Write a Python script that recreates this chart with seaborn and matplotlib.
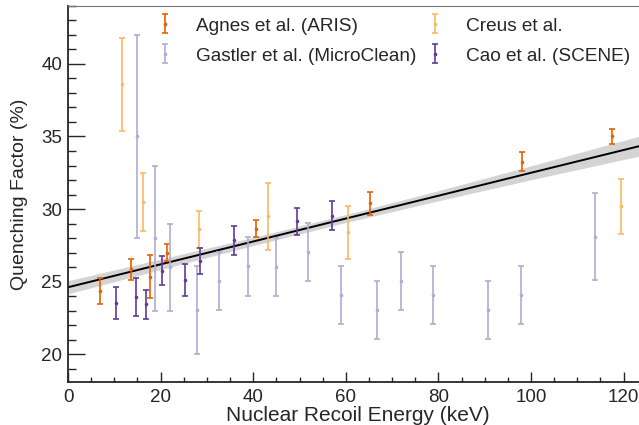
import numpy as np
import pandas as pd
import matplotlib
matplotlib.use("Agg")
import matplotlib.pyplot as plt
import seaborn as sns
from matplotlib.ticker import MultipleLocator

# ------------------------------
# Data
# ------------------------------
aris_x = [7.0, 13.6, 17.7, 21.4, 40.5, 65.3, 98.1, 117.6]
aris_y = [24.35, 25.85, 25.35, 27.0, 28.65, 30.4, 33.25, 35.0]
aris_err = [0.9, 0.72, 1.5, 0.6, 0.6, 0.8, 0.65, 0.5]

creus_x = [11.6, 16.3, 28.4, 43.3, 60.4, 119.4]
creus_y = [38.6, 30.5, 28.6, 29.5, 28.4, 30.2]
creus_err = [3.2, 2.0, 1.3, 2.3, 1.8, 1.9]

gastler_x = [14.8, 18.8, 22.0, 27.9, 32.7, 38.8, 44.9, 51.8, 59.0, 66.8, 71.9, 78.9, 90.8, 97.8, 113.8]
gastler_y = [35.0, 28.0, 26.0, 23.05, 25.05, 26.05, 26.0, 27.05, 24.1, 23.05, 25.05, 24.1, 23.05, 24.1, 28.1]
gastler_err = [7, 5, 3, 3, 2, 2, 2, 2, 2, 2, 2, 2, 2, 2, 3]

cao_x = [10.3, 14.75, 16.85, 20.4, 25.3, 28.6, 35.9, 49.5, 57.1]
cao_y = [23.55, 23.95, 23.45, 25.75, 25.15, 26.45, 27.85, 29.15, 29.55]
cao_err = [1.1, 1.3, 1.0, 1.0, 1.1, 0.9, 1.0, 0.95, 1.0]

# global fit line and its band
fit_x = [0, 20, 40, 60, 80, 100, 125]
fit_y = [24.62, 26.2, 27.77, 29.35, 30.92, 32.5, 34.46]
band_hw = [0.45, 0.36, 0.28, 0.27, 0.35, 0.48, 0.7]

labels = ["Agnes et al. (ARIS)", "Gastler et al. (MicroClean)",
          "Creus et al.", "Cao et al. (SCENE)"]
colors = ["#e66101", "#b2abd2", "#fdb863", "#5e3c99"]

# ------------------------------
# Style
# ------------------------------
sns.set_style("ticks")
plt.rcParams["font.family"] = ["Liberation Sans", "DejaVu Sans"]

fig = plt.figure(figsize=(6.39, 4.25), dpi=100)
W, H = 639.0, 425.0
ax = fig.add_axes([68 / W, 1 - 382 / H, (646.75 - 68) / W, (382 - 5.7) / H])

# fit band + line
fit_df = pd.DataFrame({"x": fit_x, "y": fit_y, "hw": band_hw})
ax.fill_between(fit_df["x"], fit_df["y"] - fit_df["hw"], fit_df["y"] + fit_df["hw"],
                color="#d4d4d4", lw=0, zorder=1)
sns.lineplot(data=fit_df, x="x", y="y", color="black", lw=1.4, ax=ax, zorder=2)

series = [
    (aris_x, aris_y, aris_err),
    (gastler_x, gastler_y, gastler_err),
    (creus_x, creus_y, creus_err),
    (cao_x, cao_y, cao_err),
]
handles = []
for (sx, sy, se), col, lab in zip(series, colors, labels):
    h = ax.errorbar(sx, sy, yerr=se, fmt="o", ms=1.6, color=col, ecolor=col,
                    elinewidth=1.2, capsize=2.4, capthick=1.2, label=lab, zorder=3)
    handles.append(h)

# axes
ax.set_xlim(0, 125)
ax.set_ylim(18.1, 44.0)
ax.xaxis.set_major_locator(MultipleLocator(20))
ax.xaxis.set_minor_locator(MultipleLocator(5))
ax.yaxis.set_major_locator(MultipleLocator(5))
ax.yaxis.set_minor_locator(MultipleLocator(1))
ax.tick_params(axis="x", which="major", direction="in", length=7.4, width=1.0,
               labelsize=13.5, pad=5)
ax.tick_params(axis="x", which="minor", direction="in", length=3.8, width=1.0)
ax.tick_params(axis="y", which="major", direction="in", length=12, width=1.0,
               labelsize=13.5, pad=4)
ax.tick_params(axis="y", which="minor", direction="in", length=6, width=1.0)
ax.spines["left"].set_linewidth(1.3)
ax.spines["bottom"].set_linewidth(1.3)
ax.spines["top"].set_linewidth(0.8)
ax.spines["top"].set_color("#777777")

ax.set_xlabel("Nuclear Recoil Energy (keV)", fontsize=15, labelpad=0)
ax.set_ylabel("Quenching Factor (%)", fontsize=14, labelpad=10)

# legend in two columns
leg_kw = dict(loc="upper left", bbox_transform=fig.transFigure, frameon=False,
              fontsize=13.7, handlelength=1.0, handleheight=1.0, handletextpad=1.15,
              labelspacing=0.6, borderpad=0, borderaxespad=0)
leg1 = ax.legend(handles[:2], labels[:2], bbox_to_anchor=(155 / W, 1 - 16 / H), **leg_kw)
ax.add_artist(leg1)
ax.legend(handles[2:], labels[2:], bbox_to_anchor=(425 / W, 1 - 16 / H), **leg_kw)

fig.savefig("out.png", dpi=100)
